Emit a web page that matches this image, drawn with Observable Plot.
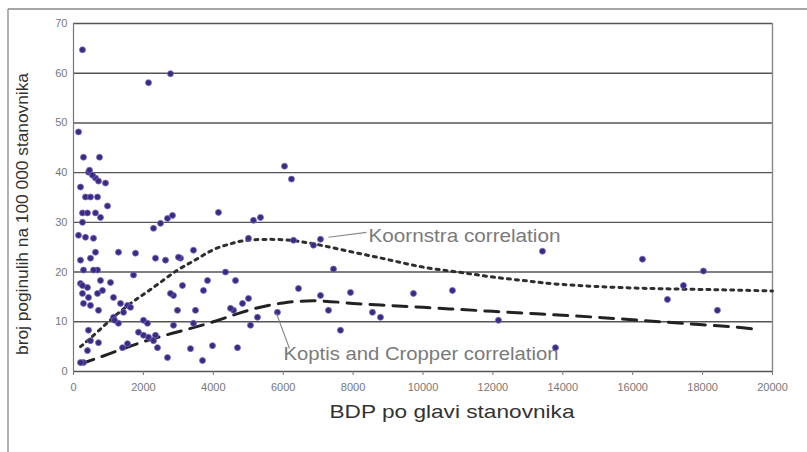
<!DOCTYPE html>
<html><head><meta charset="utf-8">
<script src="https://cdn.jsdelivr.net/npm/d3@7"></script>
<script src="https://cdn.jsdelivr.net/npm/@observablehq/plot@0.6"></script>
<style>
html,body{margin:0;padding:0;background:#fff;}
#chart{position:relative;width:807px;height:452px;}
</style></head><body><div id="chart"></div>
<script>
// scatter points: GDP per capita, deaths per 100 000
const gdp = [257,143,286,744,429,629,715,916,2146,2775,6037,6237,200,343,486,687,973,257,400,629,772,143,343,572,200,486,629,687,286,200,400,772,1059,257,429,687,1144,286,486,715,429,486,715,400,286,1287,1774,1717,1345,1545,1144,1287,1173,1860,2003,2146,1545,2003,2346,2403,2689,2289,2489,2689,2832,2346,2632,3061,3433,2861,3118,2975,2861,3490,3347,3691,3977,3719,3834,4148,4349,4635,4692,4578,4835,5007,5064,5264,5007,5150,5350,13418,7439,7067,6866,6437,7067,7296,7639,7925,8554,8783,9727,10843,12159,13790,16279,18024,17452,16994,18424,5836,3433,4492,6294,257,544,458,257,830,1431,1631,2117,1402,200,2289,2775,572,3004];
const deaths = [64.7,48.2,43.1,43.1,40.1,38.9,38.3,37.9,58.1,59.9,41.3,38.7,37.1,35.1,35.1,35.1,33.3,31.9,31.9,31.9,31,27.4,27,26.8,22.4,22.8,24,20.4,20.4,17.7,16.9,18.3,17.9,15.7,14.9,15.7,14.9,13.7,13.3,12.3,8.3,6.2,5.8,4.2,1.8,24,23.8,19.4,13.7,13.3,10.9,9.7,10.3,7.9,7.3,6.9,5.6,10.3,7.3,4.8,2.8,28.8,29.8,30.8,31.4,22.8,22.4,22.8,24.4,15.3,17.3,12.3,9.3,12.3,4.6,2.2,5.2,16.3,18.3,32,20,18.3,4.8,12.3,13.7,14.7,9.3,10.9,26.8,30.4,31,24.2,20.6,26.6,25.4,16.7,15.3,12.3,8.3,15.9,11.9,10.9,15.7,16.3,10.3,4.8,22.6,20.2,17.3,14.5,12.3,11.9,9.7,12.7,26.4,30,39.5,40.5,17.3,16.3,11.9,12.9,9.7,4.8,1.8,6.2,15.7,20.4,23];

// Koornstra correlation curve
const koorX = [200,500,1000,1500,2000,2500,3000,3500,4000,4500,5000,6000,7000,8000,9000,10000,11000,12000,13000,14000,16000,18000,20000];
const koorY = [5,6.8,10,13,15.5,18,20.5,22.5,24.5,25.7,26.4,26.5,25.5,24,22.5,21,20,19,18.2,17.5,16.8,16.5,16.2];

// Koptis and Cropper correlation curve
const kopX = [200,1000,2000,3000,4000,5000,6000,7000,8000,9000,10000,11000,12000,13000,14000,15000,16000,17000,18000,19000,19500];
const kopY = [1.5,3.5,6,8,10,12.3,13.8,14.2,13.7,13.3,12.9,12.5,12.1,11.7,11.3,10.9,10.4,9.9,9.4,8.9,8.5];

const xTicks = [0,2000,4000,6000,8000,10000,12000,14000,16000,18000,20000];
const yTicks = [0,10,20,30,40,50,60,70];

// annotations (label text, anchor point, leader line)
const labelText = ["Koornstra correlation", "Koptis and Cropper correlation"];
const labelX = [8440, 6008];
const labelY = [27.2, 3.4];
const labelWidth = [192, 275];
const leaderX1 = [7296, 5808], leaderY1 = [27, 11.7];
const leaderX2 = [8383, 6180], leaderY2 = [28, 4.6];

const pts = gdp.map((g,i)=>({x:g, y:deaths[i]}));
const koor = koorX.map((x,i)=>({x, y:koorY[i]}));
const kop = kopX.map((x,i)=>({x, y:kopY[i]}));
const labels = labelText.map((t,i)=>({t, x:labelX[i], y:labelY[i]}));
const leaders = labelText.map((t,i)=>({x1:leaderX1[i], y1:leaderY1[i], x2:leaderX2[i], y2:leaderY2[i]}));

const W = 807, H = 452;
const FONT = "'Liberation Sans', Arial, sans-serif";
const plot = Plot.plot({
  width: W, height: H,
  marginLeft: 73, marginRight: 35, marginTop: 23, marginBottom: 81,
  style: {fontFamily: FONT, background: "transparent"},
  x: {domain: [0, 20000]},
  y: {domain: [0, 70]},
  marks: [
    Plot.ruleY(yTicks, {stroke: "#555", strokeWidth: 1.4}),
    Plot.ruleX([20000], {stroke: "#888", strokeWidth: 1.4}),
    Plot.ruleX([0], {stroke: "#777", strokeWidth: 1.2}),
    Plot.axisX({ticks: xTicks, tickFormat: d3.format("d"), tickSize: 4, tickPadding: 8, stroke: "#777", fill: "#777", fontSize: 11, label: null}),
    Plot.axisY({ticks: yTicks, tickSize: 0, tickPadding: 6, fill: "#777", fontSize: 11, label: null}),
    Plot.line(koor, {x: "x", y: "y", curve: "natural", stroke: "#2e2e2e", strokeWidth: 3, strokeDasharray: "3,5"}),
    Plot.line(kop, {x: "x", y: "y", curve: "natural", stroke: "#222", strokeWidth: 3, strokeDasharray: "14,9"}),
    Plot.dot(pts, {x: "x", y: "y", r: 3, fill: "#3b2a82", stroke: "#7a68c0", strokeWidth: 0.8}),
    Plot.link(leaders, {x1: "x1", y1: "y1", x2: "x2", y2: "y2", stroke: "#888", strokeWidth: 1.2}),
    Plot.text(labels, {x: "x", y: "y", text: "t", textAnchor: "start", lineAnchor: "middle", fill: "#7a7a7a", fontSize: 18, className: "annot"})
  ]
});
document.getElementById("chart").appendChild(plot);

const svg = d3.select(plot);
// stretch annotation labels horizontally to the reference's widths
svg.selectAll("g.annot text").each(function(d, i) {
  d3.select(this).attr("textLength", labelWidth[i]).attr("lengthAdjust", "spacingAndGlyphs");
});
// outer frame lines
svg.append("line").attr("x1", 8).attr("y1", 9).attr("x2", W).attr("y2", 9).attr("stroke", "#888").attr("stroke-width", 1.3);
svg.append("line").attr("x1", 8).attr("y1", 9).attr("x2", 8).attr("y2", H).attr("stroke", "#888").attr("stroke-width", 1.3);
// axis titles
svg.append("text").attr("x", 452).attr("y", 418).attr("text-anchor", "middle")
  .attr("font-size", 19).attr("fill", "#333").attr("font-family", FONT)
  .attr("textLength", 245).attr("lengthAdjust", "spacingAndGlyphs")
  .text("BDP po glavi stanovnika");
svg.append("text").attr("transform", "translate(28,214) rotate(-90)").attr("text-anchor", "middle")
  .attr("font-size", 16).attr("fill", "#333").attr("font-family", FONT)
  .attr("textLength", 282).attr("lengthAdjust", "spacingAndGlyphs")
  .text("broj poginulih na 100 000 stanovnika");
</script></body></html>
